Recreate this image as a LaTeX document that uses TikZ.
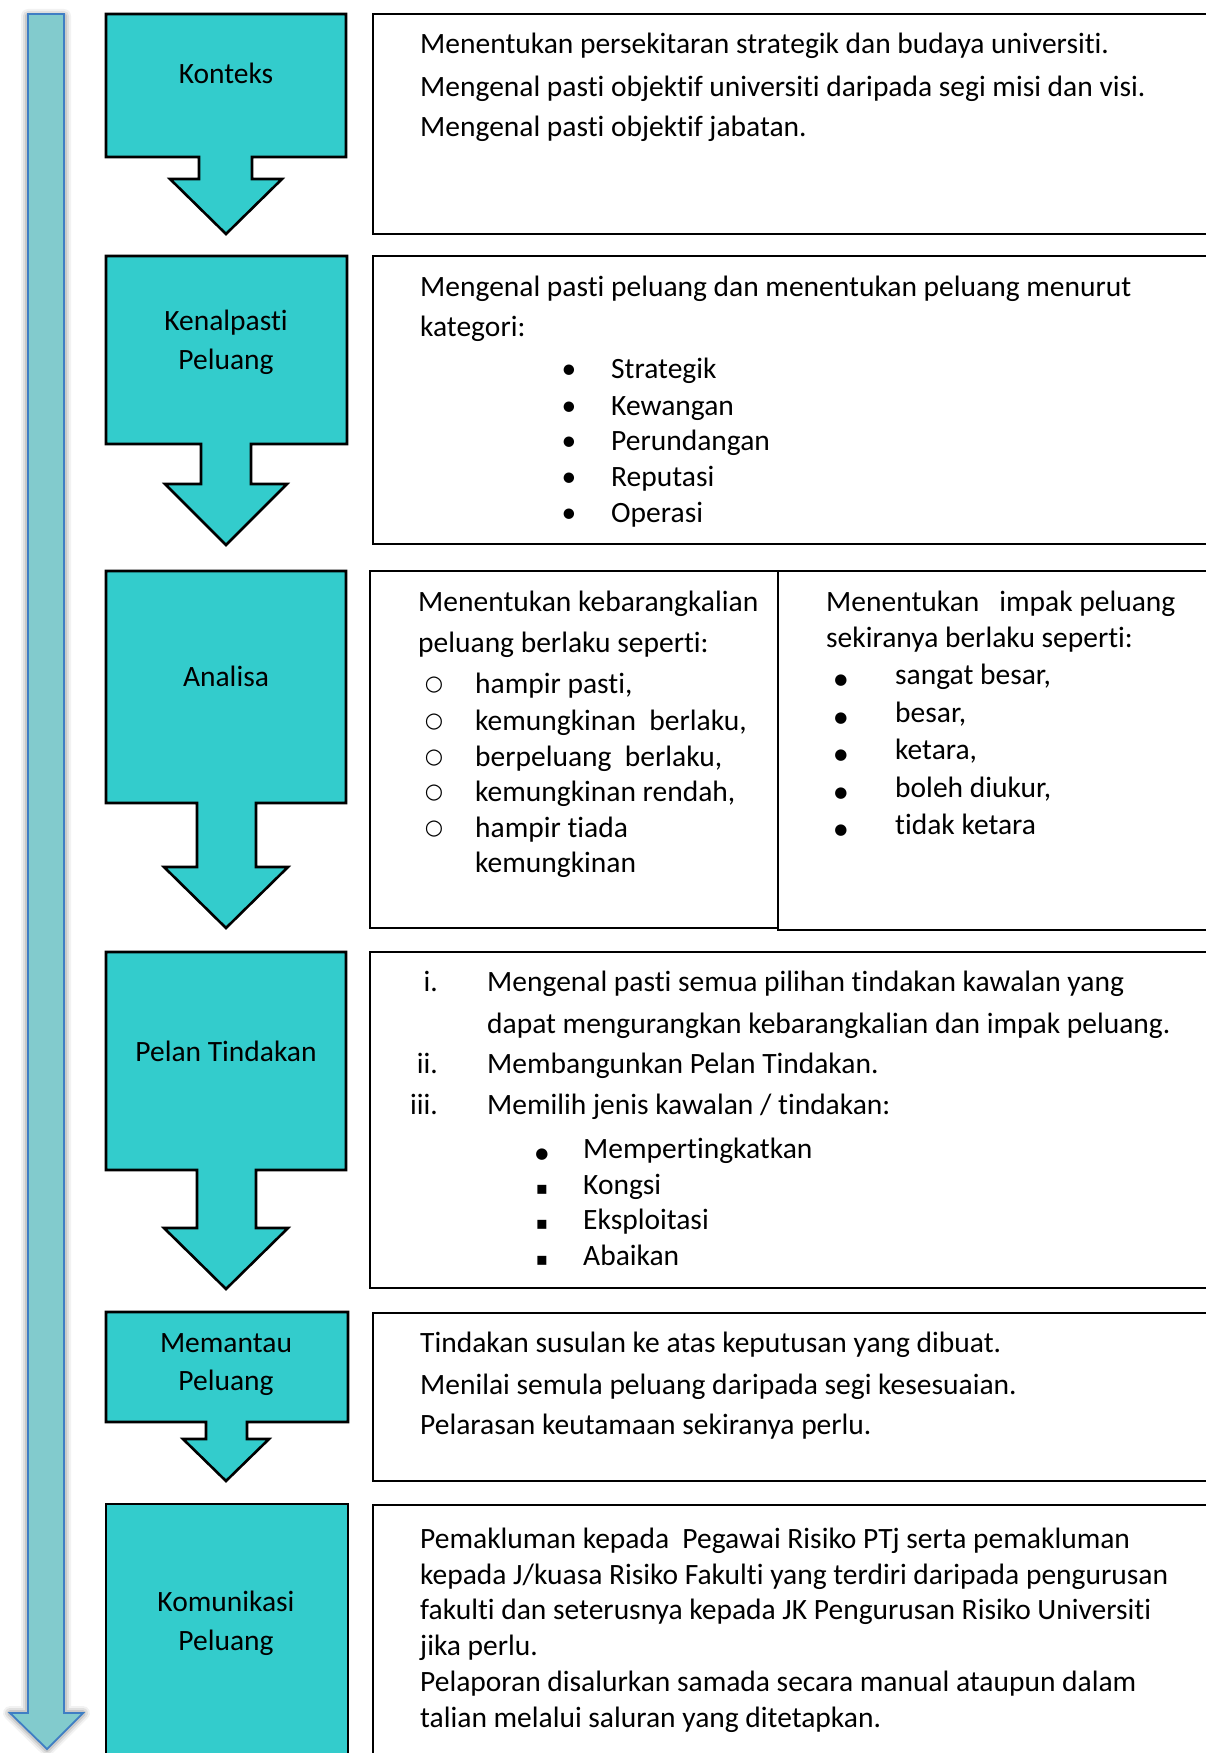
\documentclass[tikz,border=0pt]{standalone}
\usepackage{fontspec}
\setmainfont{Carlito}[Ligatures=NoCommon]
\newfontfamily\symfont{DejaVu Sans}
\definecolor{tealbox}{HTML}{33CCCC}
\definecolor{longfill}{HTML}{82CBCD}
\definecolor{longdraw}{HTML}{3F7EC4}
\tikzset{
  stepshape/.style={fill=tealbox, draw=black, line width=2.6pt, line join=miter},
  infobox/.style={draw=black, line width=1.8pt},
  txt/.style={anchor=base west, inner sep=0pt, font=\fontsize{29.5}{34}\selectfont},
  lbl/.style={anchor=base, inner sep=0pt, font=\fontsize{29.5}{34}\selectfont},
  num/.style={anchor=base east, inner sep=0pt, font=\fontsize{29.5}{34}\selectfont},
  bul/.style={anchor=base, inner sep=0pt, font=\fontsize{29.5}{34}\selectfont},
}
\begin{document}
\begin{tikzpicture}[x=1pt,y=-1pt]
\useasboundingbox (0,0) rectangle (1206,1753);
\fill[white] (0,0) rectangle (1206,1753);

% long arrow shadow
\foreach \w/\o in {14/0.05,10/0.07,6/0.10}{
  \draw[black, line width=\w pt, opacity=\o, line join=round]
    (28,16) -- (64,16) -- (64,1713) -- (83,1713) -- (47,1749) -- (10,1713) -- (28,1713) -- cycle;
}
% long arrow
\draw[fill=longfill, draw=longdraw, line width=1.8pt] (28,14) -- (64,14) -- (64,1713) -- (83,1713) -- (47,1749) -- (10,1713) -- (28,1713) -- cycle;

% step shapes
\draw[stepshape] (106,14) -- (346,14) -- (346,157) -- (252,157) -- (252,179) -- (282,179) -- (226,234) -- (170,179) -- (199,179) -- (199,157) -- (106,157) -- cycle;
\draw[stepshape] (106,256) -- (347,256) -- (347,444) -- (251,444) -- (251,484) -- (287,484) -- (226,545) -- (165,484) -- (201,484) -- (201,444) -- (106,444) -- cycle;
\draw[stepshape] (106,571) -- (346,571) -- (346,803) -- (256,803) -- (256,867) -- (288,867) -- (226,928) -- (164,867) -- (197,867) -- (197,803) -- (106,803) -- cycle;
\draw[stepshape] (106,952) -- (346,952) -- (346,1170) -- (256,1170) -- (256,1228) -- (288,1228) -- (226,1289) -- (164,1228) -- (197,1228) -- (197,1170) -- (106,1170) -- cycle;
\draw[stepshape] (106,1312) -- (348,1312) -- (348,1422) -- (247,1422) -- (247,1439) -- (269,1439) -- (226,1481) -- (183,1439) -- (206,1439) -- (206,1422) -- (106,1422) -- cycle;
\draw[stepshape] (106,1770) -- (106,1504) -- (348,1504) -- (348,1770);

% labels
\node[lbl] (l1) at (226,84) {Konteks};
\node[lbl] (l2a) at (226,330) {Kenalpasti};
\node[lbl] (l2b) at (226,369) {Peluang};
\node[lbl] (l3) at (226,686) {Analisa};
\node[lbl] (l4) at (226,1061) {Pelan Tindakan};
\node[lbl] (l5a) at (226,1352) {Memantau};
\node[lbl] (l5b) at (226,1390) {Peluang};
\node[lbl] (l6a) at (226,1611) {Komunikasi};
\node[lbl] (l6b) at (226,1650) {Peluang};

% info boxes
\draw[infobox] (1215,14) -- (373,14) -- (373,234) -- (1215,234);
\draw[infobox] (1215,256) -- (373,256) -- (373,544) -- (1215,544);
\draw[infobox] (778,571) -- (370,571) -- (370,928) -- (778,928) -- cycle;
\draw[infobox] (1215,571) -- (778,571) -- (778,930) -- (1215,930);
\draw[infobox] (1215,952) -- (370,952) -- (370,1288) -- (1215,1288);
\draw[infobox] (1215,1313) -- (373,1313) -- (373,1481) -- (1215,1481);
\draw[infobox] (1215,1505) -- (373,1505) -- (373,1770);

% box 1 text
\node[txt] (t1a) at (420,54) {Menentukan persekitaran strategik dan budaya universiti.};
\node[txt] (t1b) at (420,96) {Mengenal pasti objektif universiti daripada segi misi dan visi.};
\node[txt] (t1c) at (420,136) {Mengenal pasti objektif jabatan.};

% box 2 text
\node[txt] (t2a) at (420,296) {Mengenal pasti peluang dan menentukan peluang menurut};
\node[txt] (t2b) at (420,336) {kategori:};
\foreach \y/\t [count=\i] in {378/Strategik,415/Kewangan,450/Perundangan,486/Reputasi,522/Operasi}{
  \node[bul] (b2\i) at (569,\y) {•};
  \node[txt] (i2\i) at (611,\y) {\t};
}

% box 3a text
\node[txt] (t3a) at (418,611) {Menentukan kebarangkalian};
\node[txt] (t3b) at (418,652) {peluang berlaku seperti:};
\foreach \y/\t [count=\i] in {693/{hampir pasti,},730/{kemungkinan\ \ berlaku,},766/{berpeluang\ \ berlaku,},801/{kemungkinan rendah,},837/{hampir tiada}}{
  \node[bul, font=\fontsize{21}{24}\selectfont\symfont] (c3\i) at (434,\y-3) {○};
  \node[txt] (i3\i) at (475,\y) {\t};
}
\node[txt] (i36) at (475,872) {kemungkinan};

% box 3b text
\node[txt] (t3c) at (826,611) {Menentukan \ \ impak peluang};
\node[txt] (t3d) at (826,647) {sekiranya berlaku seperti:};
\foreach \y/\t [count=\i] in {684/{sangat besar,},722/{besar,},759/{ketara,},797/{boleh diukur,},834/{tidak ketara}}{
  \node[bul, font=\fontsize{15}{20}\selectfont\symfont] (d3\i) at (841,\y) {●};
  \node[txt] (j3\i) at (895,\y) {\t};
}

% box 4 text
\node[num] (n4a) at (438,991) {i.};
\node[txt] (t4a) at (487,991) {Mengenal pasti semua pilihan tindakan kawalan yang};
\node[txt] (t4b) at (487,1033) {dapat mengurangkan kebarangkalian dan impak peluang.};
\node[num] (n4b) at (438,1073) {ii.};
\node[txt] (t4c) at (487,1073) {Membangunkan Pelan Tindakan.};
\node[num] (n4c) at (438,1114) {iii.};
\node[txt] (t4d) at (487,1114) {Memilih jenis kawalan / tindakan:};
\node[bul, font=\fontsize{15}{20}\selectfont\symfont] (s41) at (542,1158) {●};
\node[txt] (k41) at (583,1158) {Mempertingkatkan};
\foreach \y/\t [count=\i from 2] in {1194/Kongsi,1229/Eksploitasi,1265/Abaikan}{
  \node[bul, font=\fontsize{18}{24}\selectfont\symfont] (s4\i) at (542,\y) {▪};
  \node[txt] (k4\i) at (583,\y) {\t};
}

% box 5 text
\node[txt] (t5a) at (420,1352) {Tindakan susulan ke atas keputusan yang dibuat.};
\node[txt] (t5b) at (420,1394) {Menilai semula peluang daripada segi kesesuaian.};
\node[txt] (t5c) at (420,1434) {Pelarasan keutamaan sekiranya perlu.};

% box 6 text
\node[txt] (t6a) at (420,1548) {Pemakluman kepada\ \ Pegawai Risiko PTj serta pemakluman};
\node[txt] (t6b) at (420,1584) {kepada J/kuasa Risiko Fakulti yang terdiri daripada pengurusan};
\node[txt] (t6c) at (420,1619) {fakulti dan seterusnya kepada JK Pengurusan Risiko Universiti};
\node[txt] (t6d) at (420,1655) {jika perlu.};
\node[txt] (t6e) at (420,1691) {Pelaporan disalurkan samada secara manual ataupun dalam};
\node[txt] (t6f) at (420,1727) {talian melalui saluran yang ditetapkan.};
\end{tikzpicture}
\end{document}
